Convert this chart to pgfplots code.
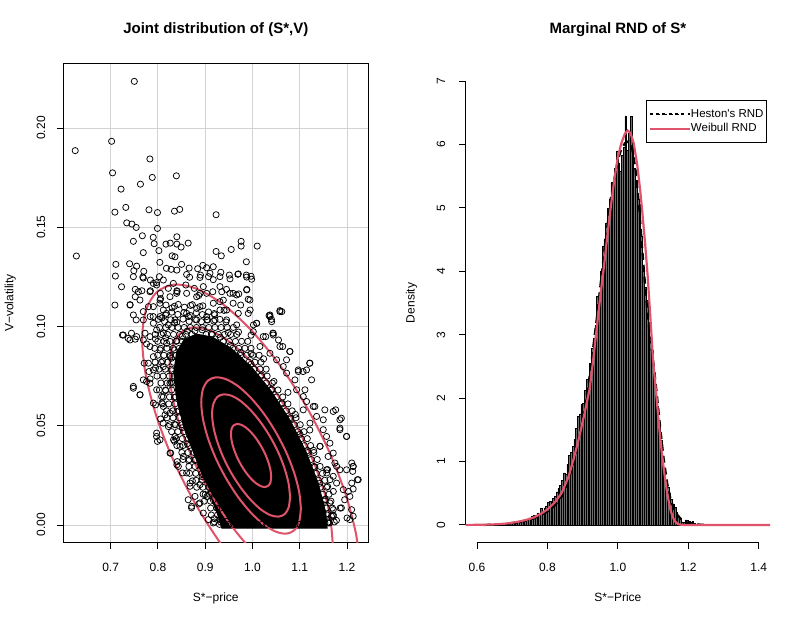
\documentclass[border=0pt]{standalone}
\usepackage{fontspec}
\setmainfont{Liberation Sans}
\usepackage{pgfplots}
\usepackage{pgfplotstable}
\pgfplotsset{compat=1.18}
\definecolor{rred}{HTML}{DF536B}
\definecolor{rgrid}{HTML}{D3D3D3}
\definecolor{rgray}{HTML}{6E6E6E}
\pgfplotstableread{
x h
0.620 0.01
0.625 0.00
0.630 0.00
0.635 0.00
0.640 0.00
0.645 0.01
0.650 0.00
0.655 0.01
0.660 0.00
0.665 0.01
0.670 0.01
0.675 0.02
0.680 0.01
0.685 0.02
0.690 0.03
0.695 0.02
0.700 0.05
0.705 0.04
0.710 0.03
0.715 0.06
0.720 0.05
0.725 0.07
0.730 0.06
0.735 0.09
0.740 0.08
0.745 0.11
0.750 0.10
0.755 0.13
0.760 0.15
0.765 0.12
0.770 0.19
0.775 0.17
0.780 0.26
0.785 0.22
0.790 0.27
0.795 0.30
0.800 0.35
0.805 0.37
0.810 0.34
0.815 0.42
0.820 0.45
0.825 0.52
0.830 0.58
0.835 0.62
0.840 0.70
0.845 0.82
0.850 0.80
0.855 0.95
0.860 1.10
0.865 1.14
0.870 1.24
0.875 1.35
0.880 1.52
0.885 1.71
0.890 1.75
0.895 1.90
0.900 1.92
0.905 2.12
0.910 2.30
0.915 2.32
0.920 2.55
0.925 2.78
0.930 2.95
0.935 3.15
0.940 3.60
0.945 3.62
0.950 4.00
0.955 4.39
0.960 4.50
0.965 4.76
0.970 5.00
0.975 5.13
0.980 5.40
0.985 5.30
0.990 5.62
0.995 5.90
1.000 5.71
1.005 5.57
1.010 5.83
1.015 5.95
1.020 6.45
1.025 5.91
1.030 6.18
1.035 6.44
1.040 5.95
1.045 5.62
1.050 5.44
1.055 5.13
1.060 5.05
1.065 4.55
1.070 4.05
1.075 3.75
1.080 3.55
1.085 3.20
1.090 2.92
1.095 2.75
1.100 2.39
1.105 2.10
1.110 1.87
1.115 1.60
1.120 1.34
1.125 1.08
1.130 0.90
1.135 0.71
1.140 0.60
1.145 0.50
1.150 0.40
1.155 0.33
1.160 0.28
1.165 0.20
1.170 0.14
1.175 0.10
1.180 0.05
1.185 0.04
1.190 0.08
1.195 0.07
1.200 0.06
1.205 0.05
1.210 0.06
1.215 0.02
1.220 0.01
1.225 0.00
}\histtable
\begin{document}
\begin{tikzpicture}
\path[use as bounding box] (0,0) rectangle (803bp,623bp);
\pgfplotsset{
 rstyle/.style={
  scale only axis, height=479.4bp,
  tick align=outside, major tick length=6.7bp,
  xtick pos=left, ytick pos=left,
  tick style={black, line width=0.9bp},
  tick label style={font=\fontsize{12bp}{14bp}\selectfont},
  label style={font=\fontsize{12bp}{14bp}\selectfont},
  xticklabel style={anchor=base, yshift=-22.3bp},
  title style={at={(axis description cs:0.5,1)}, anchor=base, yshift=24.3bp, font=\bfseries\fontsize{15bp}{18bp}\selectfont},
  xlabel style={at={(axis description cs:0.5,0)}, anchor=base, yshift=-58.8bp},
  axis line style={line width=0.9bp},
 }
}
% ---------------- left panel ----------------
\begin{axis}[rstyle, at={(63.3bp,80.3bp)}, anchor=south west, width=305bp,
 xmin=0.5998, xmax=1.245, ymin=-0.00894, ymax=0.2326,
 xtick={0.7,0.8,0.9,1.0,1.1,1.2}, xticklabels={0.7,0.8,0.9,1.0,1.1,1.2},
 ytick={0,0.05,0.1,0.15,0.2}, yticklabels={0.00,0.05,0.10,0.15,0.20},
 yticklabel style={xshift=-11.6bp, rotate=90, anchor=base},
 grid=major, major grid style={rgrid, line width=0.9bp},
 title={Joint distribution of (S*,V)}, xlabel={S*−price}, ylabel={V−volatility},
 ylabel style={at={(axis description cs:-0.164,0.5)}, anchor=base},
]
% dense core of the cloud (points overlap into a solid mass)
\addplot[fill=black, draw=black, line width=0.75bp] coordinates {
(1.158,-0.0016) (1.1550,0.0064) (1.1387,0.0214) (1.1127,0.0373) (1.0788,0.0531)
(1.0393,0.0676) (0.9970,0.0799) (0.9547,0.0891) (0.9152,0.0947) (0.8813,0.0962)
(0.8553,0.0935) (0.8390,0.0868) (0.8334,0.0766) (0.8390,0.0639) (0.8553,0.0486)
(0.8813,0.0327) (0.9050,0.0180) (0.9250,0.0060) (0.9350,-0.0016)} -- cycle;
% individual points
\addplot[only marks, mark=o, mark size=3.1bp, mark options={line width=0.75bp, draw=black}] coordinates {
(0.750,0.2235) (0.625,0.1886) (0.702,0.1933) (0.6275,0.1355) (0.704,0.1774) (0.783,0.1844) (0.722,0.1692) (0.788,0.1751) (0.839,0.1759) (0.763,0.1717)
(0.732,0.160) (0.709,0.1576) (0.781,0.1588) (0.799,0.1574) (0.835,0.1581) (0.846,0.159) (0.923,0.1563) (0.734,0.1522) (0.745,0.1516) (0.754,0.1499)
(0.799,0.1494) (0.748,0.1429) (0.767,0.1457) (0.790,0.1449) (0.792,0.1417) (0.840,0.1452) (0.817,0.1415) (0.826,0.142) (0.840,0.1415) (0.849,0.140)
(0.864,0.142) (0.802,0.1382) (0.769,0.1372) (0.830,0.1356) (0.836,0.1351) (0.976,0.1429) (0.976,0.1405) (1.010,0.1405) (0.923,0.1378) (0.934,0.1356)
(0.955,0.1388) (0.711,0.1313) (0.710,0.1254) (0.740,0.1316) (0.755,0.1304) (0.749,0.1281) (0.770,0.1278) (0.768,0.1249) (0.804,0.1323) (0.818,0.1293)
(0.828,0.1288) (0.840,0.1284) (0.850,0.1313) (0.866,0.1294) (0.803,0.1251) (0.784,0.1234) (0.797,0.1221) (0.867,0.1248) (0.884,0.1291) (0.895,0.1308)
(0.903,0.1296) (0.917,0.1301) (0.890,0.1259) (0.907,0.1251) (0.917,0.1236) (0.933,0.1273) (0.951,0.1259) (0.969,0.1263) (0.987,0.1259) (0.997,0.1253)
(0.987,0.1326) (0.723,0.1200) (0.709,0.1108) (0.741,0.1108) (0.752,0.1187) (0.766,0.118) (0.752,0.115) (0.762,0.1133) (0.784,0.118) (0.805,0.1167)
(0.822,0.1192) (0.840,0.118) (0.859,0.1209) (0.877,0.1192) (0.889,0.1167) (0.916,0.1175) (0.935,0.1175) (0.945,0.1187) (0.959,0.1167) (0.971,0.1164)
(0.988,0.1187) (0.991,0.1137) (0.975,0.1108) (0.959,0.1117) (0.931,0.1125) (0.995,0.1083) (1.009,0.1016) (1.035,0.1055) (1.040,0.1036) (1.058,0.108)
(1.043,0.0966) (1.028,0.0949) (1.002,0.1008) (0.769,0.1075) (0.780,0.11) (0.748,0.1058) (0.790,0.105) (0.804,0.1117) (0.818,0.1066) (0.725,0.0957)
(0.744,0.0966) (0.755,0.0949)
(0.741,0.111) (0.737,0.094) (0.752,0.0936) (0.754,0.1033) (0.748,0.0689) (0.762,0.0656) (0.771,0.0815) (0.781,0.0773) (0.776,0.0723) (0.795,0.0605)
(0.797,0.0446) (0.799,0.0421) (0.811,0.0513) (0.815,0.0555) (0.827,0.0362) (0.833,0.0429) (0.840,0.0303) (0.852,0.0262) (0.864,0.0127) (0.871,0.0086)
(0.889,0.0203) (0.900,0.0153) (0.917,0.0127) (0.931,0.0027) (0.945,0.0018) (1.037,0.105) (1.062,0.1075) (1.044,0.0957) (1.055,0.0932) (1.064,0.0899)
(1.079,0.0874) (1.072,0.0832) (1.097,0.0773) (1.107,0.0773) (1.121,0.0815) (1.125,0.0731) (1.111,0.0681) (1.132,0.0597) (1.153,0.058) (1.176,0.058)
(1.188,0.0538) (1.185,0.0488) (1.199,0.0446) (1.210,0.0312) (1.213,0.0295) (1.212,0.027) (1.222,0.0228) (1.210,0.0211) (1.213,0.0181) (1.203,0.0169)
(1.195,0.0127) (1.200,0.0035) (1.213,0.0044) (1.188,0.0086) (1.171,0.0169) (1.178,0.0295) (1.160,0.0345) (1.143,0.0396) (1.157,0.0262) (1.164,0.0228)
(1.153,0.0127) (1.167,0.0044) (1.171,0.0077) (1.160,0.001)
(0.7480,0.1251) (0.7691,0.1244) (0.7903,0.1217) (0.7973,0.1209) (0.8114,0.1234) (0.8326,0.1217) (0.8607,0.1262) (0.8889,0.1247) (0.9101,0.1268) (0.9312,0.1251)
(0.9524,0.1240) (0.9700,0.1265) (0.9876,0.1249) (0.9982,0.1238) (0.8960,0.1201) (0.9312,0.1201) (0.9524,0.1167) (0.9665,0.1159) (0.9876,0.1184) (0.9947,0.1133)
(0.7586,0.1175) (0.7832,0.1175) (0.8044,0.1133) (0.8255,0.1150) (0.8396,0.1167) (0.8607,0.1167) (0.8819,0.1150) (0.9030,0.1167) (0.9171,0.1117) (0.9383,0.1133)
(0.8889,0.1100) (0.8114,0.1083) (0.7903,0.1100) (0.9312,0.1083) (0.9453,0.1083) (0.9700,0.1066) (0.9911,0.1066) (1.0087,0.1016) (1.0369,0.1058) (1.0581,0.1075)
(1.0405,0.1024)
(0.7691,0.1033) (0.7903,0.1016) (0.8044,0.1050) (0.8220,0.1008) (0.8361,0.1033) (0.7727,0.0966) (0.7832,0.0949) (0.7973,0.0983) (0.8114,0.0966) (0.8607,0.1066)
(0.8819,0.1033) (0.9030,0.1050) (0.9207,0.1033) (0.9453,0.1033) (0.9665,0.1008) (1.0017,0.0974) (1.0228,0.0949) (1.0440,0.0966) (1.0581,0.0899) (1.0792,0.0874)
(0.7691,0.0932) (0.7409,0.0932) (0.7268,0.0957) (0.7832,0.0899) (0.7903,0.0848) (0.8044,0.0882) (0.8185,0.0915) (0.7797,0.0815) (0.7903,0.0781) (0.8114,0.0798)
(0.8255,0.0848) (1.0158,0.0899) (1.0369,0.0865) (1.0510,0.0832) (1.0651,0.0798) (1.0722,0.0765) (1.0898,0.0731) (1.0968,0.0781) (1.1215,0.0815) (1.1144,0.0781)
(0.7691,0.0731) (0.7832,0.0714) (0.7973,0.0681) (0.8079,0.0647) (0.8255,0.0714) (0.7480,0.0698) (0.7621,0.0656) (0.7903,0.0614) (0.8114,0.0597) (0.8255,0.0563)
(1.0933,0.0681) (1.1074,0.0647) (1.1144,0.0622) (1.1285,0.0597) (1.1074,0.0580) (1.1356,0.0547) (1.1215,0.0513) (1.1497,0.0530) (1.1708,0.0572) (1.1849,0.0530)
(0.7973,0.0463) (0.8044,0.0429) (0.8220,0.0496) (0.8361,0.0446) (0.8467,0.0396) (0.8255,0.0362) (0.8537,0.0345) (0.8431,0.0295) (0.8607,0.0262) (0.8678,0.0211)
(1.1497,0.0480) (1.1567,0.0446) (1.1638,0.0412) (1.1426,0.0396) (1.1708,0.0362) (1.1849,0.0480) (1.1990,0.0446) (1.1743,0.0312) (1.1849,0.0278) (1.2131,0.0295)
(0.8678,0.0195) (0.8784,0.0144) (0.8713,0.0094) (0.8889,0.0111) (0.8960,0.0060) (0.9066,0.0027) (0.9312,0.0027) (0.9171,0.0010) (1.1567,0.0278) (1.1708,0.0245)
(1.1779,0.0211) (1.1920,0.0178) (1.2060,0.0144) (1.2096,0.0077) (1.2060,0.0027) (1.2237,0.0228) (1.1990,0.0278) (1.1638,0.0111) (1.1708,0.0044) (1.1532,0.0010)
(0.930,0.0003) (0.940,0.0003) (0.950,0.0003) (0.960,0.0003) (0.970,0.0003) (0.980,0.0003) (0.990,0.0003) (1.000,0.0003) (1.010,0.0003) (1.020,0.0003)
(1.030,0.0003) (1.040,0.0003) (1.050,0.0003) (1.060,0.0003) (1.070,0.0003) (1.080,0.0003) (1.090,0.0003) (1.100,0.0003) (1.110,0.0003) (1.120,0.0003)
(1.130,0.0003) (1.140,0.0003) (1.150,0.0003) (1.163,0.0010)
(1.1541,0.0129) (1.1319,0.0291) (1.1005,0.0457) (1.0621,0.0615) (1.0192,0.0756) (0.9748,0.0869) (0.9319,0.0946) (0.8935,0.0983) (0.8621,0.0977) (0.8399,0.0928)
(0.8285,0.0840) (0.8285,0.0718) (0.8399,0.0571) (0.8621,0.0409) (0.8935,0.0243) (0.9319,0.0085)
(1.1776,0.0023) (1.1589,0.0194) (1.1292,0.0376) (1.0905,0.0557) (1.0454,0.0723) (0.9970,0.0863) (0.9486,0.0969) (0.9035,0.1033) (0.8648,0.1050) (0.8351,0.1019)
(0.8164,0.0943) (0.8100,0.0826) (0.8164,0.0677) (0.8351,0.0506) (0.8648,0.0324) (0.9035,0.0143)
(0.9704,0.0972) (0.9189,0.1065) (0.8728,0.1110) (0.8351,0.1102) (0.8085,0.1043) (0.7948,0.0937) (0.7948,0.0791) (0.8085,0.0615) (0.8351,0.0421) (0.8728,0.0222)
(0.9189,0.0032) (1.1855,0.0085) (1.1589,0.0279) (1.1212,0.0478) (1.0751,0.0668) (1.0236,0.0837)
(0.9970,0.0956) (0.9398,0.1081) (0.8865,0.1156) (0.8407,0.1176) (0.8056,0.1140) (0.7835,0.1050) (0.7760,0.0912) (0.7835,0.0736) (0.8056,0.0534) (0.8407,0.0319)
(0.8865,0.0106)
(1.0810,0.0535) (1.0405,0.0684) (0.9970,0.0810) (0.9535,0.0905) (0.9131,0.0962) (0.8783,0.0978) (0.8516,0.0950) (0.8348,0.0882) (0.8291,0.0777) (0.8348,0.0643)
(0.8516,0.0490) (0.8783,0.0326) (0.9131,0.0165) (1.1424,0.0210) (1.1157,0.0374) (1.1592,0.0057)
(0.817,0.1108) (0.830,0.1094) (0.843,0.1111) (0.856,0.1097) (0.869,0.1106) (0.882,0.1091) (0.895,0.1104)
(0.816,0.1058) (0.829,0.1072) (0.842,0.1061) (0.855,0.1070) (0.868,0.1056) (0.881,0.1069) (0.894,0.1060) (0.907,0.1073) (0.920,0.1059)
(0.801,0.1036) (0.814,0.1025) (0.827,0.1034) (0.840,0.1022) (0.853,0.1037) (0.866,0.1026) (0.879,0.1035) (0.892,0.1024) (0.905,0.1033) (0.918,0.1027) (0.931,0.1036) (0.944,0.1023)
(0.8035,0.0995) (0.8165,0.0995) (0.8295,0.0995) (0.8425,0.0995) (0.8555,0.0995) (0.8685,0.0995) (0.8815,0.0995) (0.8945,0.0995) (0.9075,0.0995) (0.9205,0.0995) (0.9335,0.0995) (0.9465,0.0995) (0.9595,0.0995)
(0.794,0.096) (0.807,0.096) (0.820,0.096) (0.833,0.096) (0.846,0.096) (0.859,0.096) (0.872,0.096) (0.902,0.096) (0.915,0.096) (0.928,0.096) (0.941,0.096) (0.954,0.096) (0.967,0.096)
(0.7995,0.0925) (0.8125,0.0925) (0.8255,0.0925) (0.8385,0.0925) (0.8515,0.0925) (0.938,0.0925) (0.951,0.0925) (0.964,0.0925) (0.977,0.0925) (0.990,0.0925)
(0.793,0.089) (0.806,0.089) (0.819,0.089) (0.832,0.089) (0.845,0.089) (0.958,0.089) (0.971,0.089) (0.984,0.089) (0.997,0.089)
(0.7995,0.0855) (0.8125,0.0855) (0.8255,0.0855) (0.8385,0.0855) (0.975,0.0855) (0.988,0.0855) (1.001,0.0855) (1.014,0.0855)
(0.794,0.082) (0.807,0.082) (0.820,0.082) (0.833,0.082) (0.992,0.082) (1.005,0.082) (1.018,0.082)
(0.8025,0.0785) (0.8155,0.0785) (0.8285,0.0785) (1.003,0.0785) (1.016,0.0785) (1.029,0.0785)
(0.798,0.075) (0.811,0.075) (0.824,0.075) (0.835,0.075) (1.018,0.075) (1.031,0.075)
(0.8065,0.0715) (0.8195,0.0715) (0.8325,0.0715) (1.029,0.0715) (1.042,0.0715)
(0.803,0.068) (0.816,0.068) (0.829,0.068) (1.041,0.068) (1.054,0.068)
(0.8115,0.0645) (0.8245,0.0645) (0.8375,0.0645) (1.051,0.0645) (1.064,0.0645)
(0.810,0.061) (0.823,0.061) (0.836,0.061) (1.062,0.061) (1.075,0.061)
(0.8185,0.0575) (0.8315,0.0575) (0.8445,0.0575) (1.071,0.0575) (1.084,0.0575)
(0.819,0.054) (0.832,0.054) (0.845,0.054) (1.079,0.054) (1.092,0.054)
(0.8245,0.0505) (0.8375,0.0505) (0.8505,0.0505) (1.088,0.0505) (1.101,0.0505)
(0.829,0.047) (0.842,0.047) (0.855,0.047) (1.096,0.047) (1.109,0.047)
(0.8385,0.0435) (0.8515,0.0435) (0.8645,0.0435) (1.103,0.0435) (1.116,0.0435)
(0.840,0.040) (0.853,0.040) (0.866,0.040) (1.110,0.040) (1.123,0.040)
(0.8505,0.0365) (0.8635,0.0365) (0.8765,0.0365) (1.117,0.0365) (1.130,0.0365)
(0.853,0.033) (0.866,0.033) (0.879,0.033) (1.124,0.033) (1.137,0.033)
(0.8655,0.0295) (0.8785,0.0295) (0.8915,0.0295) (1.130,0.0295) (1.143,0.0295)
(0.867,0.026) (0.880,0.026) (0.893,0.026) (1.135,0.026) (1.148,0.026)
(0.8805,0.0225) (0.8935,0.0225) (0.9065,0.0225) (1.140,0.0225) (1.153,0.0225)
(0.882,0.019) (0.895,0.019) (0.908,0.019) (1.144,0.019) (1.157,0.019)
(0.8955,0.0155) (0.9085,0.0155) (0.9215,0.0155) (1.149,0.0155) (1.162,0.0155)
(0.898,0.012) (0.911,0.012) (1.153,0.012) (1.166,0.012)
(0.9115,0.0085) (0.9245,0.0085) (1.156,0.0085) (1.169,0.0085)
(0.913,0.005) (0.926,0.005) (1.158,0.005) (1.171,0.005)
(0.9195,0.0015) (0.9325,0.0015) (1.160,0.0015) (1.173,0.0015)
};
% contour ellipses
\addplot[rred, line width=2bp, smooth] coordinates {
(1.0395,0.0242) (1.0381,0.0276) (1.0338,0.0315) (1.0271,0.0356) (1.0183,0.0397) (1.0080,0.0435) (0.9970,0.0467) (0.9860,0.0491)
(0.9757,0.0505) (0.9669,0.0509) (0.9602,0.0502) (0.9559,0.0485) (0.9545,0.0458) (0.9559,0.0424) (0.9602,0.0385) (0.9669,0.0344)
(0.9757,0.0303) (0.9860,0.0265) (0.9970,0.0233) (1.0080,0.0209) (1.0183,0.0195) (1.0271,0.0191) (1.0338,0.0198) (1.0381,0.0215) (1.0395,0.0242)};
\addplot[rred, line width=2bp, smooth] coordinates {
(1.0795,0.0140) (1.0766,0.0206) (1.0684,0.0281) (1.0553,0.0362) (1.0382,0.0441) (1.0183,0.0514) (0.9970,0.0576) (0.9757,0.0623)
(0.9558,0.0651) (0.9387,0.0658) (0.9256,0.0645) (0.9174,0.0611) (0.9145,0.0560) (0.9174,0.0494) (0.9256,0.0419) (0.9387,0.0338)
(0.9558,0.0259) (0.9757,0.0186) (0.9970,0.0124) (1.0183,0.0077) (1.0382,0.0049) (1.0553,0.0042) (1.0684,0.0055) (1.0766,0.0089) (1.0795,0.0140)};
\addplot[rred, line width=2bp, smooth] coordinates {
(1.1024,0.0082) (1.0988,0.0166) (1.0883,0.0262) (1.0715,0.0365) (1.0497,0.0466) (1.0243,0.0560) (0.9970,0.0639) (0.9697,0.0699)
(0.9443,0.0734) (0.9225,0.0744) (0.9057,0.0727) (0.8952,0.0684) (0.8916,0.0618) (0.8952,0.0534) (0.9057,0.0438) (0.9225,0.0335)
(0.9443,0.0234) (0.9697,0.0140) (0.9970,0.0061) (1.0243,0.0001) (1.0497,-0.0034) (1.0715,-0.0044) (1.0883,-0.0027) (1.0988,0.0016) (1.1024,0.0082)};
\addplot[rred, line width=2bp, smooth] coordinates {
(1.1696,-0.0089) (1.1637,0.0049) (1.1465,0.0207) (1.1190,0.0374) (1.0833,0.0540) (1.0417,0.0694) (0.9970,0.0823) (0.9523,0.0921)
(0.9107,0.0979) (0.8750,0.0995) (0.8475,0.0967) (0.8303,0.0896) (0.8244,0.0789) (0.8303,0.0651) (0.8475,0.0493) (0.8750,0.0326)
(0.9107,0.0160) (0.9523,0.0006) (0.9970,-0.0123) (1.0417,-0.0221) (1.0833,-0.0279) (1.1190,-0.0295) (1.1465,-0.0267) (1.1637,-0.0196) (1.1696,-0.0089)};
\addplot[rred, line width=2bp, smooth] coordinates {
(1.2274,-0.0236) (1.2195,-0.0052) (1.1965,0.0158) (1.1599,0.0382) (1.1122,0.0604) (1.0566,0.0809) (0.9970,0.0982) (0.9374,0.1112)
(0.8818,0.1190) (0.8341,0.1211) (0.7975,0.1173) (0.7745,0.1080) (0.7666,0.0936) (0.7745,0.0752) (0.7975,0.0542) (0.8341,0.0318)
(0.8818,0.0096) (0.9374,-0.0109) (0.9970,-0.0282) (1.0566,-0.0412) (1.1122,-0.0490) (1.1599,-0.0511) (1.1965,-0.0473) (1.2195,-0.0380) (1.2274,-0.0236)};
\end{axis}
% ---------------- right panel ----------------
\begin{axis}[rstyle, at={(465.7bp,80.3bp)}, anchor=south west, width=304.3bp,
 xmin=0.568, xmax=1.432, ymin=-0.28, ymax=7.28, clip=false,
 axis line style={draw=none},
 xtick={0.6,0.8,1.0,1.2,1.4}, xticklabels={0.6,0.8,1.0,1.2,1.4},
 ytick={0,1,2,3,4,5,6,7}, yticklabels={0,1,2,3,4,5,6,7},
 yticklabel style={xshift=-14bp, rotate=90, anchor=base},
 title={Marginal RND of S*}, xlabel={S*−Price}, ylabel={Density},
 ylabel style={at={(axis description cs:-0.168,0.5)}, anchor=base},
 legend style={at={(0.5915,0.9228)}, anchor=north west, draw=black, line width=0.75bp,
   inner xsep=2.7bp, inner ysep=6bp, row sep=0pt, column sep=0pt,
   font=\fontsize{11.5bp}{14bp}\selectfont,
   nodes={inner xsep=0bp, inner ysep=1.85bp, text height=8.5bp, text depth=2.5bp}},
 legend cell align=left,
 legend image code/.code={\path (0bp,0bp) -- (40bp,0bp); \draw[#1, line width=0.9bp] (7.6bp,0bp) -- (29.6bp,0bp);},
]
\draw[line width=0.9bp] (axis cs:0.568,0) -- (axis cs:0.568,7);
\draw[line width=0.9bp] (axis cs:0.6,-0.28) -- (axis cs:1.4,-0.28);
% histogram: grey fill under the bars, then the black bar borders
\addplot[const plot mark left, fill=rgray, draw=none, forget plot] table[x=x, y=h] {\histtable} \closedcycle;
\addplot[ybar interval, fill=none, draw=black, line width=0.5bp, forget plot] table[x=x, y=h] {\histtable};
\addplot[black, line width=2.2bp, dash pattern=on 7bp off 5bp, legend image post style={dash pattern=on 3bp off 3.3bp}] coordinates {
(0.62,0) (0.64,0.003) (0.68,0.015) (0.70,0.03) (0.72,0.045) (0.74,0.07) (0.76,0.10) (0.78,0.15) (0.80,0.21) (0.82,0.30)
(0.84,0.44) (0.86,0.70) (0.88,1.12) (0.90,1.65) (0.92,2.35) (0.94,3.25) (0.96,4.25) (0.98,5.15) (1.00,5.75) (1.01,5.93)
(1.02,6.02) (1.03,6.05) (1.04,5.95) (1.05,5.62) (1.06,5.05) (1.07,4.30) (1.08,3.60) (1.09,3.02) (1.10,2.60) (1.11,2.10)
(1.12,1.55) (1.13,1.05) (1.14,0.66) (1.15,0.40) (1.16,0.25) (1.17,0.15) (1.18,0.09) (1.19,0.05) (1.20,0.03) (1.22,0.01) (1.25,0)};
\addlegendentry{Heston\textquotesingle s RND}
\addplot[rred, line width=2.2bp] coordinates {
(0.568,0) (0.60,0.002) (0.64,0.006) (0.68,0.02) (0.70,0.035) (0.72,0.055) (0.74,0.08) (0.76,0.115) (0.78,0.17) (0.80,0.245)
(0.82,0.35) (0.84,0.50) (0.86,0.76) (0.875,1.05) (0.89,1.38) (0.905,1.75) (0.92,2.15) (0.93,2.6) (0.94,3.1) (0.95,3.6)
(0.96,4.05) (0.97,4.55) (0.98,5.02) (0.99,5.45) (1.00,5.8) (1.01,6.02) (1.02,6.17) (1.028,6.22) (1.036,6.18) (1.045,6.02)
(1.055,5.68) (1.063,5.3) (1.07,4.9) (1.078,4.4) (1.085,3.9) (1.092,3.3) (1.10,2.6) (1.11,2.0) (1.12,1.38) (1.13,0.9)
(1.14,0.5) (1.15,0.22) (1.16,0.07) (1.17,0.015) (1.18,0.002) (1.19,0) (1.432,0)};
\addlegendentry{Weibull RND}
\end{axis}
\end{tikzpicture}
\end{document}
